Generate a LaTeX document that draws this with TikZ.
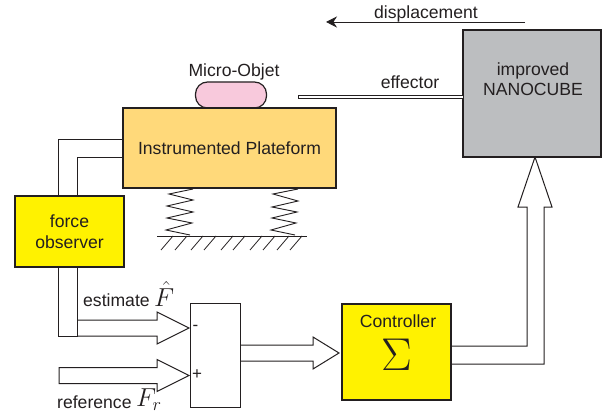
\documentclass[tikz,border=0pt]{standalone}
\usepackage{fix-cm}
\usepackage{fontspec}
\setmainfont{Liberation Sans}
\usepackage{amsmath}
\usepackage{xcolor}
\usetikzlibrary{arrows.meta}
\usetikzlibrary{calc}
\definecolor{dgray}{HTML}{231F20}
\definecolor{platecolor}{HTML}{FFD97A}
\definecolor{objcolor}{HTML}{F8C9DC}
\definecolor{blockcolor}{HTML}{FFF200}
\definecolor{cubecolor}{HTML}{BCBEC0}
\newcommand\Fhat{\fontsize{26}{26}\selectfont$\hat{F}$}
\newcommand\Fref{\fontsize{26}{26}\selectfont$F_r$}
\tikzstyle{lbl}=[font=\fontsize{17.6}{20}\selectfont,text=dgray,inner sep=0pt,align=center]
\tikzstyle{box}=[draw=dgray,line width=1.2pt,outer sep=0pt,inner sep=0pt,align=center,font=\fontsize{17.6}{21}\selectfont,text=dgray]
\tikzstyle{tube}=[draw=dgray,line width=1pt,fill=white]
\tikzstyle{thin}=[dgray,line width=.9pt]
\tikzstyle{blockh}[32]=[tube,to path={($(\tikztostart)+(0,-8)$) -- ($(\tikztotarget)+(-#1,-8)$) -- ++(0,-8) -- (\tikztotarget) -- ($(\tikztotarget)+(-#1,16)$) -- ++(0,-8) -- ($(\tikztostart)+(0,8)$)}]
\begin{document}
\begin{tikzpicture}[x=1pt,y=-1pt]
	\useasboundingbox (0,0) rectangle (610,414);
	% block arrows
	\coordinate (estin) at (77,328);
	\coordinate (refin) at (59,375.5);
	\coordinate (sumout) at (240,353);
	\coordinate (estend) at (189,328);
	\coordinate (refend) at (189,375.5);
	\coordinate (ctrlin) at (339,353);
	\draw[blockh] (estin) to (estend);
	\draw[blockh] (refin) to (refend) -- cycle;
	\draw[blockh=26] (sumout) to (ctrlin);
	% left column and its arm
	\draw[tube] (124,140) -- (58,140) -- (58,336) -- (77,336) -- (77,158) -- (124,158);
	% output of the controller
	\coordinate (outa) at (451,346);
	\coordinate (outb) at (451,364);
	\coordinate (outc) at (544,364);
	\coordinate (outd) at (544,207);
	\coordinate (oute) at (552,207);
	\coordinate (cubein) at (535,157);
	\draw[tube] (outb) -- (outc) -- (outd) -- (oute) -- (cubein) -- (518,207) -- (527,207) -- (527,346) -- (outa);
	% blocks
	\node[box,fill=objcolor,rounded corners=12pt,minimum width=71pt,minimum height=26pt] (obj) at (231,95) {};
	\node[box,fill=platecolor,minimum width=213pt,minimum height=80pt] (plate) at (229.5,148) {Instrumented Plateform};
	\node[box,fill=blockcolor,minimum width=109pt,minimum height=71pt] (obs) at (69.5,231.5) {force\\observer};
	\node[box,fill=cubecolor,minimum width=138pt,minimum height=127pt] (cube) at (532,93.5) {};
	\node[box,minimum width=50pt,minimum height=104pt,line width=1pt] (sum) at (215,355) {};
	\node[box,fill=blockcolor,minimum width=109pt,minimum height=96pt] (ctrl) at (396.5,352) {};
	\node[lbl] (objlbl) at (234,72) {Micro-Objet};
	\node[lbl] (cubelbl) at (533,79) {improved\\NANOCUBE};
	\node[lbl] (ctrllbl) at (398,321) {Controller};
	\node[text=dgray,inner sep=0pt,font=\fontsize{46}{46}\selectfont] (sigma) at (396.5,354.5) {$\Sigma$};
	\node[lbl] (efflbl) at (410,82) {effector};
	\node[lbl] (displbl) at (426,14) {displacement};
	\node[lbl,anchor=west] (estlbl) at (83,300) {estimate};
	\node[anchor=west,inner sep=0pt,text=dgray] (fhat) at (154,294) {\Fhat};
	\node[lbl,anchor=west] (reflbl) at (57,402) {reference};
	\node[anchor=west,inner sep=0pt,text=dgray] (fref) at (136,400) {\Fref};
	\node[font=\fontsize{17}{17}\selectfont,text=dgray,inner sep=0pt] (minus) at (195.5,327.5) {-};
	\node[font=\fontsize{17}{17}\selectfont,text=dgray,inner sep=0pt] (plus) at (197,375) {+};
	% effector and displacement
	\coordinate (efftip) at (298,97);
	\coordinate (dispa) at (525,22);
	\coordinate (dispb) at (326,22);
	\draw[dgray,line width=.9pt,fill=white] ($(efftip)+(0,-1.2)$) rectangle ($(efftip-|cube.west)+(0,1.2)$);
	\draw[dgray,line width=.8pt,-{Stealth[length=11pt,width=11pt]}] (dispa) -- (dispb);
	% springs
	\draw[thin] (193,189) -- (169,194) -- (193,200) -- (167,206) -- (193,212) -- (167,218) -- (192,223) -- (166,230) -- (190,235);
	\draw[thin] (298,189) -- (273,194) -- (298,201) -- (272,207) -- (297,212) -- (272,218) -- (296,223) -- (271,230) -- (295,235);
	\draw[thin] (157,236) -- (307,236);
	\foreach \x in {161,175,191,204,221,233,250,263,277,290} {
		\draw[dgray,line width=.8pt] (\x,250) -- ++(12,-14);
	}
\end{tikzpicture}
\end{document}
